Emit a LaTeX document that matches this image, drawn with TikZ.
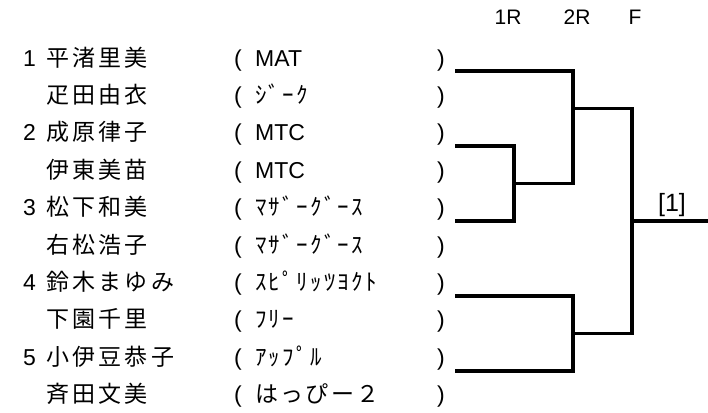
\documentclass[tikz,border=0pt]{standalone}
\usepackage{fontspec}
\setmainfont{Liberation Sans}
\newfontfamily\jpname[LetterSpace=14]{Noto Sans CJK JP}
\newfontfamily\jpteam[LetterSpace=10]{Noto Sans CJK JP}

\begin{document}
\begin{tikzpicture}[x=1pt,y=-1pt,
  entry/.style={anchor=base west,inner sep=0pt,font=\fontsize{23}{27}\selectfont},
  player/.style={anchor=base west,inner sep=0pt,font=\jpname\fontsize{23}{27}\selectfont},
  club/.style={anchor=base west,inner sep=0pt,font=\jpteam\fontsize{23}{27}\selectfont},
  round/.style={inner sep=0pt,font=\fontsize{21}{25}\selectfont},
  tie/.style={line width=3.3pt}]
\useasboundingbox (0,0) rectangle (708,412);

\node[round] (r1) at (508,17.5) {1R};
\node[round] (r2) at (577,17.5) {2R};
\node[round] (rf) at (635,17.5) {F};

\foreach \i/\num/\who/\team in {1/1/平渚里美/{\rmfamily MAT}, 2//疋田由衣/ｼﾞｰｸ,
    3/2/成原律子/{\rmfamily MTC}, 4//伊東美苗/{\rmfamily MTC},
    5/3/松下和美/ﾏｻﾞｰｸﾞｰｽ, 6//右松浩子/ﾏｻﾞｰｸﾞｰｽ,
    7/4/鈴木まゆみ/ｽﾋﾟﾘｯﾂﾖｸﾄ, 8//下園千里/ﾌﾘｰ,
    9/5/小伊豆恭子/ｱｯﾌﾟﾙ, 10//斉田文美/はっぴー２}{
  \pgfmathsetmacro\yy{66+37.4*(\i-1)}
  \node[entry] (num\i) at (23,\yy) {\num};
  \node[player] (name\i) at (46,\yy) {\who};
  \node[entry] (open\i) at (234,\yy) {(};
  \node[club] (team\i) at (255,\yy) {\team};
  \node[entry] (close\i) at (437,\yy) {)};
}

% pair lines
\coordinate (s1) at (455,71);
\coordinate (s2) at (455,146);
\coordinate (s3) at (455,221);
\coordinate (s4) at (455,296);
\coordinate (s5) at (455,371);
\coordinate (m1) at (514,183.5);
\coordinate (m2) at (573,108.5);
\coordinate (m3) at (573,333.5);
\coordinate (fin) at (632,221);
\coordinate (win) at (708,221);

\draw[tie] (s2) -| (m1) |- (s3);
\draw[tie] (s1) -| (m2) |- (m1);
\draw[tie] (s4) -| (m3) |- (s5);
\draw[tie] (m2) -| (fin) |- (m3);
\draw[tie] (fin) -- (win);

\node[round,font=\fontsize{25}{29}\selectfont] (champ) at (672,205) {[1]};
\end{tikzpicture}
\end{document}
